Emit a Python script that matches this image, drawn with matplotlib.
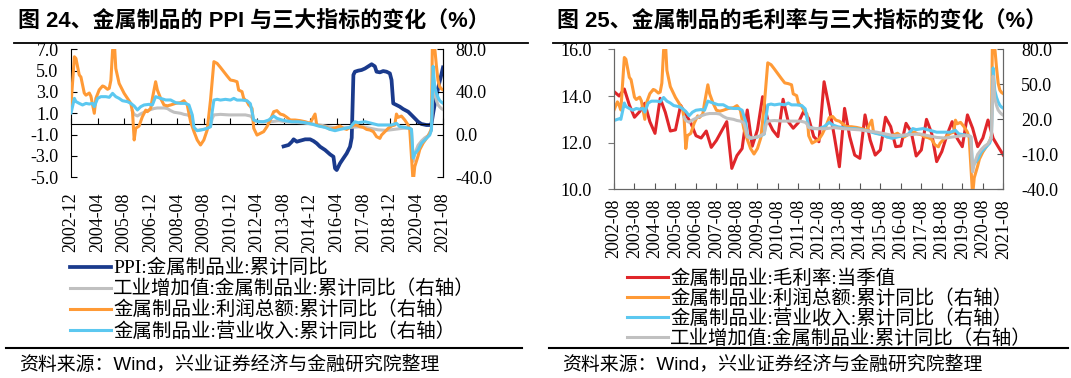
import matplotlib.pyplot as plt
import matplotlib.dates as mdates
from matplotlib.lines import Line2D
from matplotlib.ticker import FormatStrFormatter
import pandas as pd

# ---------------- 数据 ----------------
# 金属制品业 PPI 累计同比（左轴，图24）
ppi_dates = ['2013-08', '2013-11', '2014-01', '2014-02', '2014-04', '2014-06', '2014-09', '2014-12',
             '2015-02', '2015-04', '2015-06', '2015-09', '2015-12', '2016-02', '2016-03', '2016-04',
             '2016-06', '2016-08', '2016-10', '2016-12', '2017-01', '2017-02', '2017-03', '2017-05',
             '2017-07', '2017-09', '2017-11', '2018-01', '2018-03', '2018-04', '2018-06', '2018-08',
             '2018-10', '2018-12', '2019-01', '2019-02', '2019-04', '2019-06', '2019-08', '2019-11',
             '2020-01', '2020-03', '2020-05', '2020-07', '2020-10', '2020-12', '2021-01', '2021-02',
             '2021-03', '2021-04', '2021-05', '2021-06', '2021-07', '2021-08']
ppi_vals = [-2.1, -1.97, -1.66, -1.44, -1.66, -1.57, -1.44, -1.44,
            -1.6, -1.82, -2.13, -2.44, -2.85, -3.07, -4.16, -4.32,
            -3.69, -3.22, -2.76, -2.13, -1.3, 4.6, 4.9, 5.0,
            5.06, 5.2, 5.4, 5.6, 5.4, 4.9, 4.84, 4.96,
            4.9, 4.74, 4.12, 1.93, 1.78, 1.62, 1.4, 1.15,
            0.84, 0.53, 0.21, 0.0, -0.1, -0.1, 0.0, 1.0,
            1.8, 2.6, 3.3, 4.0, 4.6, 5.3]

# 利润总额 累计同比（右轴）
profit_dates = ['2002-08', '2002-10', '2002-11', '2002-12', '2003-02', '2003-03', '2003-05', '2003-06',
                '2003-08', '2003-09', '2003-11', '2003-12', '2004-02', '2004-03', '2004-05', '2004-07',
                '2004-08', '2004-10', '2004-11', '2004-12', '2005-01', '2005-02', '2005-03', '2005-05',
                '2005-08', '2005-10', '2005-12', '2006-01', '2006-02', '2006-03', '2006-05', '2006-07',
                '2006-09', '2006-10', '2006-12', '2007-01', '2007-03', '2007-04', '2007-06', '2007-08',
                '2007-10', '2007-12', '2008-03', '2008-06', '2008-08', '2008-10', '2008-12', '2009-02',
                '2009-04', '2009-06', '2009-08', '2009-10', '2009-12', '2010-02', '2010-04', '2010-06',
                '2010-08', '2010-10', '2010-12', '2011-02', '2011-04', '2011-05', '2011-07', '2011-08',
                '2011-10', '2011-11', '2012-01', '2012-02', '2012-04', '2012-06', '2012-08', '2012-10',
                '2012-12', '2013-02', '2013-04', '2013-06', '2013-08', '2013-10', '2013-12', '2014-03',
                '2014-06', '2014-09', '2014-12', '2015-01', '2015-03', '2015-04', '2015-06', '2015-08',
                '2015-10', '2015-12', '2016-02', '2016-04', '2016-06', '2016-08', '2016-10', '2016-12',
                '2017-02', '2017-04', '2017-06', '2017-08', '2017-10', '2017-12', '2018-02', '2018-04',
                '2018-06', '2018-07', '2018-09', '2018-11', '2019-01', '2019-03', '2019-04', '2019-05',
                '2019-07', '2019-09', '2019-11', '2019-12', '2020-02', '2020-03', '2020-05', '2020-06',
                '2020-08', '2020-10', '2020-12', '2021-01', '2021-02', '2021-03', '2021-04', '2021-05',
                '2021-06', '2021-07', '2021-08']
profit_vals = [28, 35, 32, 28, 73, 71.5, 56, 54,
               39, 37, 39, 36, 20, 34, 42, 45.6,
               45, 42.5, 43.4, 51, 79, 88, 62, 48,
               38.7, 34, 29.3, 21.5, -5, 6, 8, 16.8,
               23, 21.5, 24.6, 34, 49.6, 42, 34, 27.8,
               27, 27.8, 29.3, 30, 31.8, 27.8, 12, 2.8,
               -5, -9.7, -5, 4.3, 32.4, 68.4, 66.8, 63,
               59, 55, 51.2, 50.6, 49.6, 41.8, 40.3, 34,
               31, 28, 24.6, 6, -0.4, 1.2, 2.8, 7.5,
               13.7, 21.5, 22.5, 19.3, 18.4, 16.2, 13.7, 13.7,
               13.1, 12.1, 10.6, 13.7, 19.3, 9, 8.1, 7.4,
               6.8, 4.9, 5.9, 6.8, 8.1, 5.9, 4.9, 6.8,
               9, 9, 7.4, 6.8, 4.9, 4.3, 2.8, -1.9,
               -3.5, -0.4, 2.8, 5.9, 8.1, 9, 19.3, 16.2,
               17.4, 13.7, 9, 4.3, -45, -30, -20, -14,
               -8, -3.5, 1.2, 5.9, 150, 82, 65, 51,
               45, 43, 42]

# 营业收入 累计同比（右轴）
revenue_dates = ['2002-08', '2002-09', '2002-10', '2002-11', '2002-12', '2003-02', '2003-03', '2003-05',
                 '2003-07', '2003-09', '2003-11', '2004-01', '2004-02', '2004-04', '2004-06', '2004-09',
                 '2004-11', '2005-01', '2005-03', '2005-05', '2005-07', '2005-10', '2005-12', '2006-02',
                 '2006-04', '2006-06', '2006-08', '2006-11', '2007-01', '2007-03', '2007-06', '2007-09',
                 '2007-12', '2008-03', '2008-06', '2008-09', '2008-11', '2009-01', '2009-02', '2009-04',
                 '2009-06', '2009-08', '2009-10', '2009-12', '2010-01', '2010-02', '2010-04', '2010-06',
                 '2010-09', '2010-12', '2011-02', '2011-04', '2011-07', '2011-10', '2011-12', '2012-01',
                 '2012-02', '2012-05', '2012-08', '2012-11', '2013-02', '2013-04', '2013-07', '2013-10',
                 '2014-01', '2014-05', '2014-09', '2015-01', '2015-05', '2015-09', '2015-12', '2016-03',
                 '2016-06', '2016-09', '2016-12', '2017-03', '2017-05', '2017-09', '2018-01', '2018-05',
                 '2018-09', '2019-01', '2019-04', '2019-06', '2019-09', '2019-12', '2020-01', '2020-02',
                 '2020-03', '2020-05', '2020-07', '2020-10', '2020-12', '2021-01', '2021-02', '2021-03',
                 '2021-04', '2021-05', '2021-06', '2021-07', '2021-08']
revenue_vals = [19, 19.5, 20, 20.5, 20, 34, 31, 29.3,
                27.8, 29.3, 28.7, 29.3, 26.2, 34, 35.6, 35.6,
                35, 38.7, 35.6, 34, 31.8, 30.9, 29.3, 26.8,
                23.1, 26.2, 27.8, 28.4, 27.8, 35.6, 34, 32.5,
                32.5, 30, 29.3, 29.3, 27.8, 18.4, 6.8, 3.7,
                4.3, 4.9, 5.9, 7.4, 21.5, 32.4, 33.1, 32.4,
                33.1, 32.4, 34, 32.4, 32.4, 31.8, 29, 21.5,
                13.7, 12.1, 12.1, 13.7, 17.4, 15.3, 13.7, 12.8,
                12.1, 12.1, 11.2, 9.9, 8.1, 6.8, 4.9, 3.7,
                4.9, 5.9, 6.8, 12.1, 11.2, 12.1, 10.6, 9,
                9, 9, 10.6, 7.5, 6.8, 5.9, 4.9, -22,
                -18, -14.4, -8.2, -3.5, -0.4, 4.3, 64, 45,
                39, 35, 32, 30.5, 29.5]

# 工业增加值 累计同比（右轴）
va_dates = ['2006-01', '2006-02', '2006-04', '2006-06', '2006-08', '2006-10', '2006-12', '2007-02',
            '2007-04', '2007-06', '2007-08', '2007-10', '2007-12', '2008-02', '2008-04', '2008-06',
            '2008-08', '2008-10', '2008-12', '2009-01', '2009-02', '2009-04', '2009-06', '2009-08',
            '2009-10', '2009-12', '2010-01', '2010-02', '2010-06', '2010-11', '2011-04', '2011-09',
            '2011-12', '2012-01', '2012-02', '2012-07', '2012-12', '2013-05', '2013-10', '2014-03',
            '2014-08', '2015-01', '2015-06', '2015-11', '2016-04', '2016-09', '2017-02', '2017-07',
            '2017-12', '2018-05', '2018-10', '2019-03', '2019-08', '2019-12', '2020-01', '2020-02',
            '2020-03', '2020-05', '2020-07', '2020-09', '2020-11', '2020-12', '2021-01', '2021-02',
            '2021-03', '2021-04', '2021-05', '2021-06', '2021-07', '2021-08']
va_vals = [22, 19, 17.5, 19.5, 21, 22.5, 23.5, 24.5,
           25, 25, 25, 24.5, 22.5, 21, 20.5, 20,
           19, 18.5, 17, 12, 5, 4, 4.5, 5,
           6, 8, 15, 18.5, 19, 18.5, 18.5, 18.5,
           17.5, 16, 13, 12, 12, 13, 12, 11.5,
           11, 10, 9, 7.5, 6, 6.5, 7, 7.5,
           6, 4.5, 4, 5, 6, 6, 5, -25,
           -18, -10, -6, -3, -1, 2, 4, 57,
           38, 32, 28, 26, 24.5, 23.5]

# 毛利率 当季值（左轴，图25），每三个月一个点
margin_vals = [14.19, 14.0, 14.3, 13.62, 13.09, 13.33, 13.69, 12.9, 12.4, 13.9,
               13.3, 12.5, 12.55, 13.6, 13.2, 12.85, 12.3, 12.2, 12.5, 11.8,
               12.1, 12.5, 12.9, 10.9, 11.45, 11.75, 13.4, 11.85, 12.55, 13.97,
               12.97, 12.54, 12.26, 13.86, 12.9, 12.62, 12.86, 13.33, 13.04, 12.26,
               12.04, 14.61, 13.5, 12.3, 10.97, 13.47, 12.26, 11.47, 11.33, 13.19,
               12.11, 11.47, 11.69, 13.09, 12.69, 11.83, 11.86, 12.83, 12.47, 11.43,
               11.69, 13.0, 12.4, 11.19, 11.62, 12.33, 12.9, 12.19, 11.83, 13.19,
               12.62, 11.83, 12.2, 12.97, 12.19, 11.83, 11.47]
margin_dates = pd.date_range('2002-08-01', '2021-08-01', freq='3MS')

lbl_ppi = 'PPI:金属制品业:累计同比'
lbl_va = '工业增加值:金属制品业:累计同比（右轴）'
lbl_profit = '金属制品业:利润总额:累计同比（右轴）'
lbl_rev = '金属制品业:营业收入:累计同比（右轴）'
lbl_margin = '金属制品业:毛利率:当季值'

C_NAVY = '#1a3a8c'
C_GRAY = '#c0c0c0'
C_ORANGE = '#ff9a36'
C_BLUE = '#5cc8f0'
C_RED = '#e0262a'

plt.rcParams['font.family'] = ['Liberation Serif', 'Noto Sans CJK SC']
plt.rcParams['axes.unicode_minus'] = False
SANS = ['Liberation Sans', 'Noto Sans CJK SC']

d = lambda s: pd.to_datetime(s)

fig = plt.figure(figsize=(10.71, 3.78), dpi=100)
W, H = 1071, 378
LW = 2.2
TICK_FS = 13
LEG_FS = 14

# ---------------- 图 24 ----------------
ax = fig.add_axes([71 / W, 1 - 177.3 / H, 372 / W, 128 / H])
ax2 = ax.twinx()
ax.plot(d(ppi_dates), ppi_vals, color=C_NAVY, lw=2.7, label=lbl_ppi)
l_va, = ax2.plot(d(va_dates), va_vals, color=C_GRAY, lw=LW, label=lbl_va)
l_pr, = ax2.plot(d(profit_dates), profit_vals, color=C_ORANGE, lw=LW, label=lbl_profit)
l_rv, = ax2.plot(d(revenue_dates), revenue_vals, color=C_BLUE, lw=LW, label=lbl_rev)

ticks24 = pd.date_range('2002-12-01', periods=15, freq='16MS')
ax.set_xlim(ticks24[0], ticks24[-1])
ax.set_ylim(-5, 7)
ax2.set_ylim(-40, 80)
ax.set_yticks([-5, -3, -1, 1, 3, 5, 7])
ax2.set_yticks([-40, 0, 40, 80])
ax.yaxis.set_major_formatter(FormatStrFormatter('%.1f'))
ax2.yaxis.set_major_formatter(FormatStrFormatter('%.1f'))

ax.spines['bottom'].set_position(('data', 0))
ax.set_xticks(ticks24)
ax.tick_params(axis='x', direction='in', length=4.5, labelbottom=False, width=0.8)
ax.tick_params(axis='y', direction='in', length=4, labelsize=TICK_FS, pad=9)
ax2.tick_params(axis='y', direction='in', length=4, labelsize=TICK_FS, pad=9)
for a in (ax, ax2):
    a.spines['top'].set_visible(False)
ax2.spines['bottom'].set_visible(False)
ax2.spines['left'].set_visible(False)

sec = ax.secondary_xaxis('bottom')
sec.set_xticks(mdates.date2num(ticks24), [t.strftime('%Y-%m') for t in ticks24])
sec.spines['bottom'].set_visible(False)
sec.tick_params(length=0, pad=11, labelsize=TICK_FS, labelrotation=90)

handles24 = ax.get_lines()[:1] + [l_va, l_pr, l_rv]
fig.legend(handles24, [h.get_label() for h in handles24], loc='upper left',
           bbox_to_anchor=(70 / W, 1 - 259 / H), frameon=False, fontsize=LEG_FS,
           handlelength=2.1, handletextpad=0.12, labelspacing=0.12,
           borderpad=0, borderaxespad=0)

# ---------------- 图 25 ----------------
bx = fig.add_axes([614 / W, 1 - 189.4 / H, 389.3 / W, 140.1 / H])
bx2 = bx.twinx()
bx.plot(margin_dates, margin_vals, color=C_RED, lw=LW, label=lbl_margin)
m_pr, = bx2.plot(d(profit_dates), profit_vals, color=C_ORANGE, lw=LW, label=lbl_profit)
m_rv, = bx2.plot(d(revenue_dates), revenue_vals, color=C_BLUE, lw=LW, label=lbl_rev)
m_va, = bx2.plot(d(va_dates), va_vals, color=C_GRAY, lw=LW, label=lbl_va)

ticks25 = pd.date_range('2002-08-01', periods=20, freq='12MS')
bx.set_xlim(ticks25[0], ticks25[-1])
bx.set_ylim(10, 16)
bx2.set_ylim(-40, 80)
bx.set_yticks([10, 12, 14, 16])
bx2.set_yticks([-40, -10, 20, 50, 80])
bx.yaxis.set_major_formatter(FormatStrFormatter('%.1f'))
bx2.yaxis.set_major_formatter(FormatStrFormatter('%.1f'))
bx.set_xticks(ticks25, [t.strftime('%Y-%m') for t in ticks25])
bx.tick_params(axis='x', direction='in', length=4, labelsize=TICK_FS, labelrotation=90, pad=7,
               color='#555555')
bx.tick_params(axis='y', direction='out', length=4, labelsize=TICK_FS, pad=12, color='#777777')
bx2.tick_params(axis='y', direction='in', length=4, labelsize=TICK_FS, pad=13, color='#555555')
for a in (bx, bx2):
    a.spines['top'].set_visible(False)
    for s in ('left', 'right', 'bottom'):
        a.spines[s].set_color('#666666')

handles25 = [bx.get_lines()[0], m_pr, m_rv, m_va]
fig.legend(handles25, [h.get_label() for h in handles25], loc='upper left',
           bbox_to_anchor=(627 / W, 1 - 269 / H), frameon=False, fontsize=LEG_FS,
           handlelength=2.1, handletextpad=0.12, labelspacing=0.08,
           borderpad=0, borderaxespad=0)

# ---------------- 标题、分隔线、资料来源 ----------------
fig.text(18 / W, 1 - 22 / H, '图 24、金属制品的 PPI 与三大指标的变化（%）', family=SANS,
         fontsize=15.8, fontweight='bold', va='center', ha='left')
fig.text(557 / W, 1 - 22 / H, '图 25、金属制品的毛利率与三大指标的变化（%）', family=SANS,
         fontsize=15.8, fontweight='bold', va='center', ha='left')
for x0, x1 in ((14, 528), (553, 1067)):
    fig.add_artist(Line2D([x0 / W, x1 / W], [1 - 42.5 / H] * 2, color='black', lw=1.3))
for x0, x1 in ((6, 522), (549, 1068)):
    fig.add_artist(Line2D([x0 / W, x1 / W], [1 - 347.5 / H] * 2, color='black', lw=1.5))
fig.text(19 / W, 1 - 365 / H, '资料来源：Wind，兴业证券经济与金融研究院整理', family=SANS,
         fontsize=13.6, va='center', ha='left')
fig.text(562 / W, 1 - 365 / H, '资料来源：Wind，兴业证券经济与金融研究院整理', family=SANS,
         fontsize=13.6, va='center', ha='left')

fig.savefig('out.png', dpi=100)
